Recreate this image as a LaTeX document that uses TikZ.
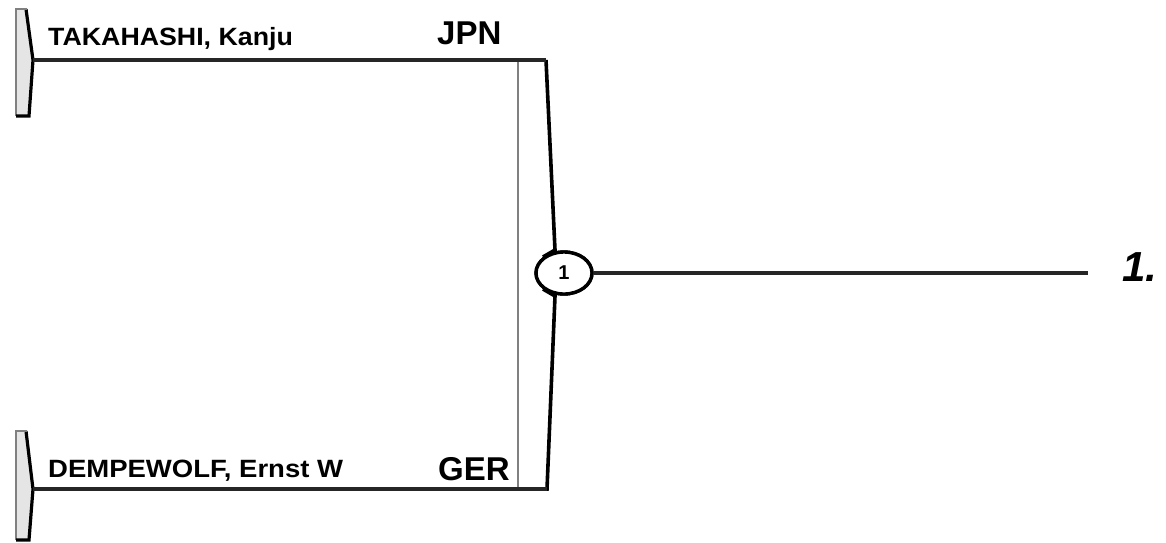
\documentclass[tikz,border=0pt]{standalone}
\usepackage{fontspec}
\setmainfont{Liberation Sans}
\usetikzlibrary{shapes.geometric}
\begin{document}
\begin{tikzpicture}[x=1pt,y=-1pt,
  wire/.style={line width=3.4pt,black!85},
  rim/.style={line width=3.6pt,black,line join=miter},
  thinrim/.style={line width=2pt,black!50},
  plabel/.style={anchor=base west,inner sep=0pt,font=\fontsize{25}{30}\selectfont\bfseries},
  clabel/.style={anchor=base west,inner sep=0pt,font=\fontsize{33}{38}\selectfont\bfseries},
  matchno/.style={ellipse,draw,line width=3.4pt,fill=white,minimum width=56pt,minimum height=42pt,inner sep=0pt,font=\fontsize{20}{22}\selectfont\bfseries},
  rlabel/.style={anchor=base west,inner sep=0pt,font=\fontsize{42}{46}\selectfont\bfseries\itshape}]
\useasboundingbox (0,0) rectangle (1166,542);
% top left bracket
\fill[black!10] (15,9) -- (27,9) -- (33,60) -- (29,116) -- (15,116) -- cycle;
\draw[thinrim] (16,9) -- (16,116);
\draw[rim,line width=3.2pt] (26,9) -- (33,60) -- (29,116) -- (16,116);
\draw[thinrim] (15,9) -- (27,9);
% bottom left bracket
\fill[black!10] (15,431) -- (27,431) -- (33,489) -- (29,540) -- (15,540) -- cycle;
\draw[thinrim] (16,431) -- (16,540);
\draw[rim,line width=3.2pt] (26,431) -- (33,489) -- (29,540) -- (16,540);
\draw[thinrim] (15,431) -- (27,431);
% coordinates
\coordinate (t1) at (33,60);
\coordinate (t2) at (33,489);
\coordinate (k1) at (546,60);
\coordinate (k2) at (547,489);
\coordinate (tip) at (1088,273);
% central bracket
\draw[thinrim] (517.5,60) -- (517.5,489);
\node[matchno] (m1) at (564,273) {1};
\draw[rim] (k1) -- (555,250) -- (m1.north west);
\draw[rim] (m1.south west) -- (555,296) -- (k2) -- (517,489);
% wires
\draw[wire] (t1) -- (k1);
\draw[wire] (t2) -- (k2);
\draw[wire] (m1) -- (tip);
\node[matchno] at (m1) {1};
% labels
\node[plabel] (n1) at (48,45) {\scalebox{1.07}[1]{TAKAHASHI, Kanju}};
\node[clabel] (n1c) at (437,44) {JPN};
\node[plabel] (n2) at (48,477) {\scalebox{1.1}[1]{DEMPEWOLF, Ernst W}};
\node[clabel] (n2c) at (438,480) {GER};
\node[rlabel] (r) at (1122,281) {1.};
\end{tikzpicture}
\end{document}
